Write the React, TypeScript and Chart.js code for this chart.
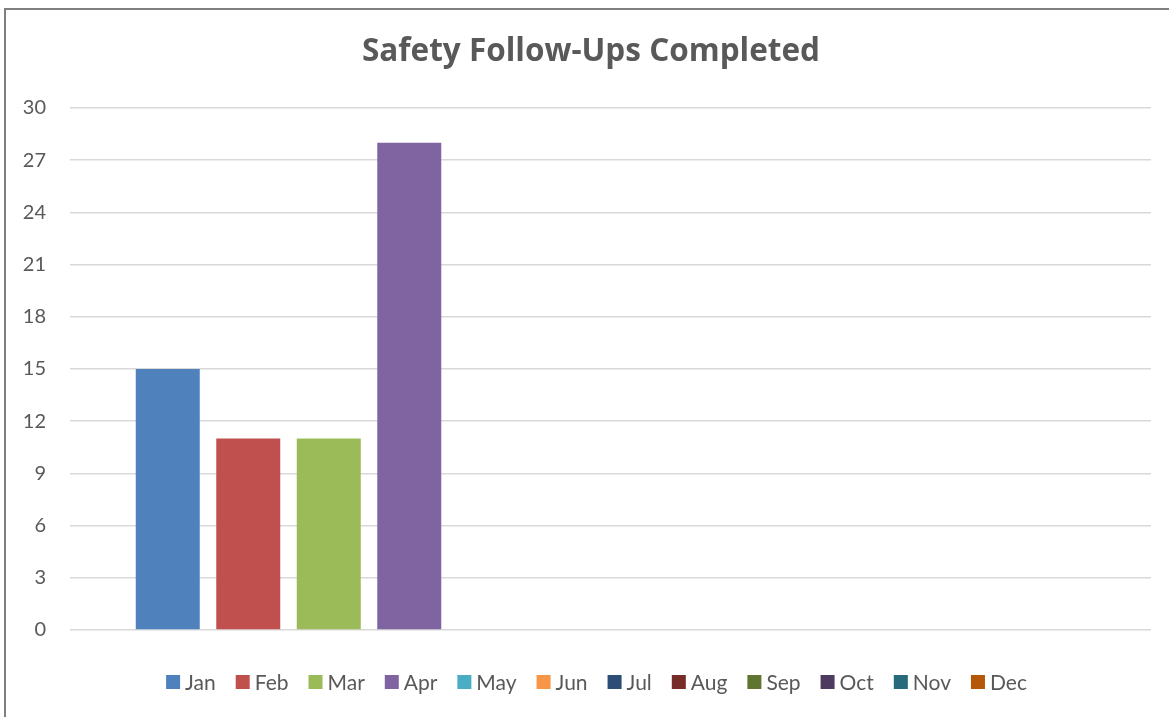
import React, { useEffect, useRef } from "react";
import { Chart, registerables } from "chart.js";

Chart.register(...registerables);

const months = ["Jan", "Feb", "Mar", "Apr", "May", "Jun", "Jul", "Aug", "Sep", "Oct", "Nov", "Dec"];
const completed: (number | null)[] = [15, 11, 11, 28, null, null, null, null, null, null, null, null];
const monthColors = [
  "#4F81BD", "#C0504D", "#9BBB59", "#8064A2", "#4BACC6", "#F79646",
  "#2C4D75", "#772C2A", "#5F7530", "#4D3B62", "#276A7C", "#B65708",
];
const categoryLabels = [""];
const yMin = 0;
const yMax = 30;
const yStep = 3;
const chartTitle = "Safety Follow-Ups Completed";

const FONT = "Lato, 'Open Sans', sans-serif";
const TITLE_FONT = "'Open Sans', Lato, sans-serif";
const TEXT_COLOR = "#595959";

const excelLegend = {
  id: "excelLegend",
  afterDraw(chart: any) {
    const ctx = chart.ctx as CanvasRenderingContext2D;
    ctx.save();
    ctx.font = `21px ${FONT}`;
    const box = 14;
    const gapText = 5;
    const gapItem = 20;
    const items = chart.data.datasets.map((ds: any) => ({
      text: ds.label as string,
      color: ds.backgroundColor as string,
      w: ctx.measureText(ds.label).width,
    }));
    const total =
      items.reduce((s: number, it: any) => s + box + gapText + it.w, 0) + gapItem * (items.length - 1);
    let x = 590.5 - total / 2;
    const y = 672;
    ctx.textBaseline = "middle";
    ctx.textAlign = "left";
    for (const it of items) {
      ctx.fillStyle = it.color;
      ctx.fillRect(x, y - box / 2, box, box);
      ctx.fillStyle = TEXT_COLOR;
      ctx.fillText(it.text, x + box + gapText, y + 1);
      x += box + gapText + it.w + gapItem;
    }
    ctx.restore();
  },
};

export default function App() {
  const canvasRef = useRef<HTMLCanvasElement | null>(null);

  useEffect(() => {
    if (!canvasRef.current) return;
    const chart = new Chart(canvasRef.current, {
      type: "bar",
      data: {
        labels: categoryLabels,
        datasets: months.map((m, i) => ({
          label: m,
          data: [completed[i]],
          backgroundColor: monthColors[i],
          borderWidth: 0,
          categoryPercentage: 0.8936,
          barPercentage: 0.795,
        })),
      },
      options: {
        responsive: false,
        animation: false,
        layout: { padding: { left: 0, right: 0, top: 0, bottom: 100 } },
        plugins: {
          legend: { display: false },
          tooltip: { enabled: false },
          title: {
            display: true,
            text: chartTitle,
            color: TEXT_COLOR,
            font: { family: TITLE_FONT, size: 31.5, weight: "bold" },
            padding: { top: 23, bottom: 37.2 },
          },
        },
        scales: {
          x: { display: false },
          y: {
            min: yMin,
            max: yMax,
            ticks: {
              stepSize: yStep,
              color: TEXT_COLOR,
              font: { family: FONT, size: 20 },
              padding: 24,
            },
            grid: { color: "#D9D9D9", lineWidth: 1.5, drawTicks: false },
            border: { display: false },
            afterFit: (scale: any) => {
              scale.width = 64;
            },
          },
          yRightSpace: {
            type: "linear",
            position: "right",
            display: true,
            ticks: { display: false },
            grid: { display: false, drawTicks: false },
            border: { display: false },
            afterFit: (scale: any) => {
              scale.width = 25;
            },
          },
        },
      },
      plugins: [excelLegend],
    });
    return () => chart.destroy();
  }, []);

  return (
    <div
      style={{
        position: "fixed",
        left: 0,
        top: 0,
        width: 1169,
        height: 717,
        overflow: "hidden",
        background: "#ffffff",
      }}
    >
      <div
        style={{
          position: "absolute",
          left: 4,
          top: 8,
          width: 1170,
          height: 720,
          border: "2px solid #808080",
          background: "#ffffff",
        }}
      >
        <canvas ref={canvasRef} width={1170} height={720} style={{ display: "block" }} />
      </div>
    </div>
  );
}
